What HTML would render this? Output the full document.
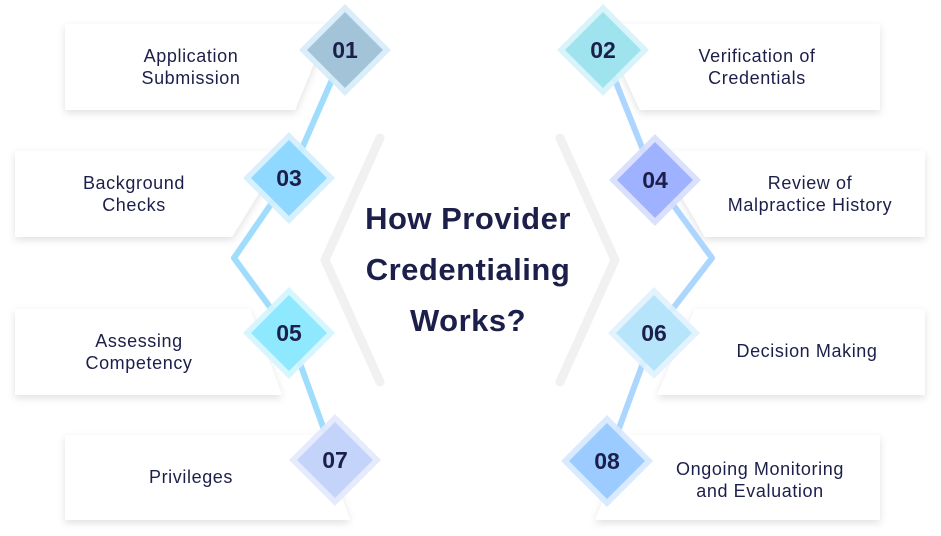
<!DOCTYPE html>
<html><head><meta charset="utf-8"><style>
body{margin:0;background:#fff;}
svg{display:block;font-family:"Liberation Sans",sans-serif;}
.t{font-size:18px;fill:#1c1f4a;text-anchor:middle;letter-spacing:0.6px;}
.n{font-size:23px;font-weight:bold;fill:#1c1f4a;text-anchor:middle;}
.h{font-size:31px;font-weight:bold;fill:#1c1f4a;text-anchor:middle;letter-spacing:0.5px;}
</style></head><body>
<svg width="941" height="536" viewBox="0 0 941 536">
<defs><filter id="s" x="-10%" y="-20%" width="120%" height="150%"><feDropShadow dx="0" dy="3" stdDeviation="4" flood-color="#000" flood-opacity="0.12"/></filter></defs>
<g fill="#fff" filter="url(#s)">
<polygon points="65,24 330,24 295,110 65,110"/>
<polygon points="15,151 285,151 232,237 15,237"/>
<polygon points="15,309 250,309 282,395 15,395"/>
<polygon points="65,435 320,435 350,520 65,520"/>
<polygon points="600,24 880,24 880,110 640,110"/>
<polygon points="655,151 925,151 925,237 705,237"/>
<polygon points="695,309 925,309 925,395 657,395"/>
<polygon points="630,435 880,435 880,520 595,520"/>
</g>
<g fill="none" stroke="#f1f1f1" stroke-width="9" stroke-linecap="round" stroke-linejoin="round">
<polyline points="380,138 325,260 380,382"/>
<polyline points="560,138 615,260 560,382"/>
</g>
<g fill="none" stroke-width="6" stroke-linejoin="round" opacity="0.85">
<polyline points="345,50 289,178 234,258 289,333 335,460" stroke="#8fd6fb"/>
<polyline points="603,50 655,180 712,258 654,333 607,461" stroke="#9fcfff"/>
</g>
<g>
<polygon points="345,4 391,50 345,96 299,50" fill="#d6ecf8" opacity="0.9"/><polygon points="345,12 383,50 345,88 307,50" fill="#a3c4d8"/>
<polygon points="603,4 649,50 603,96 557,50" fill="#d4f3fa" opacity="0.9"/><polygon points="603,12 641,50 603,88 565,50" fill="#9ee3ee"/>
<polygon points="289,132 335,178 289,224 243,178" fill="#d2effd" opacity="0.9"/><polygon points="289,140 327,178 289,216 251,178" fill="#8fd8ff"/>
<polygon points="655,134 701,180 655,226 609,180" fill="#d6defc" opacity="0.9"/><polygon points="655,142 693,180 655,218 617,180" fill="#9fb2ff"/>
<polygon points="289,287 335,333 289,379 243,333" fill="#d0f5fe" opacity="0.9"/><polygon points="289,295 327,333 289,371 251,333" fill="#8ee9ff"/>
<polygon points="654,287 700,333 654,379 608,333" fill="#dff2fd" opacity="0.9"/><polygon points="654,295 692,333 654,371 616,333" fill="#b6e4fb"/>
<polygon points="335,414 381,460 335,506 289,460" fill="#e2e9fc" opacity="0.9"/><polygon points="335,422 373,460 335,498 297,460" fill="#c3d3f9"/>
<polygon points="607,415 653,461 607,507 561,461" fill="#d6e8fe" opacity="0.9"/><polygon points="607,423 645,461 607,499 569,461" fill="#9ccbff"/>
</g>
<text class="n" x="345" y="58">01</text><text class="n" x="603" y="58">02</text>
<text class="n" x="289" y="186">03</text><text class="n" x="655" y="188">04</text>
<text class="n" x="289" y="341">05</text><text class="n" x="654" y="341">06</text>
<text class="n" x="335" y="468">07</text><text class="n" x="607" y="469">08</text>
<text class="t" x="191" y="62">Application</text><text class="t" x="191" y="84">Submission</text>
<text class="t" x="757" y="62">Verification of</text><text class="t" x="757" y="84">Credentials</text>
<text class="t" x="134" y="189">Background</text><text class="t" x="134" y="211">Checks</text>
<text class="t" x="810" y="189">Review of</text><text class="t" x="810" y="211">Malpractice History</text>
<text class="t" x="139" y="347">Assessing</text><text class="t" x="139" y="369">Competency</text>
<text class="t" x="807" y="357">Decision Making</text>
<text class="t" x="191" y="483">Privileges</text>
<text class="t" x="760" y="475">Ongoing Monitoring</text><text class="t" x="760" y="497">and Evaluation</text>
<text class="h" x="468" y="229">How Provider</text>
<text class="h" x="468" y="280">Credentialing</text>
<text class="h" x="468" y="331">Works?</text>
</svg>
</body></html>
